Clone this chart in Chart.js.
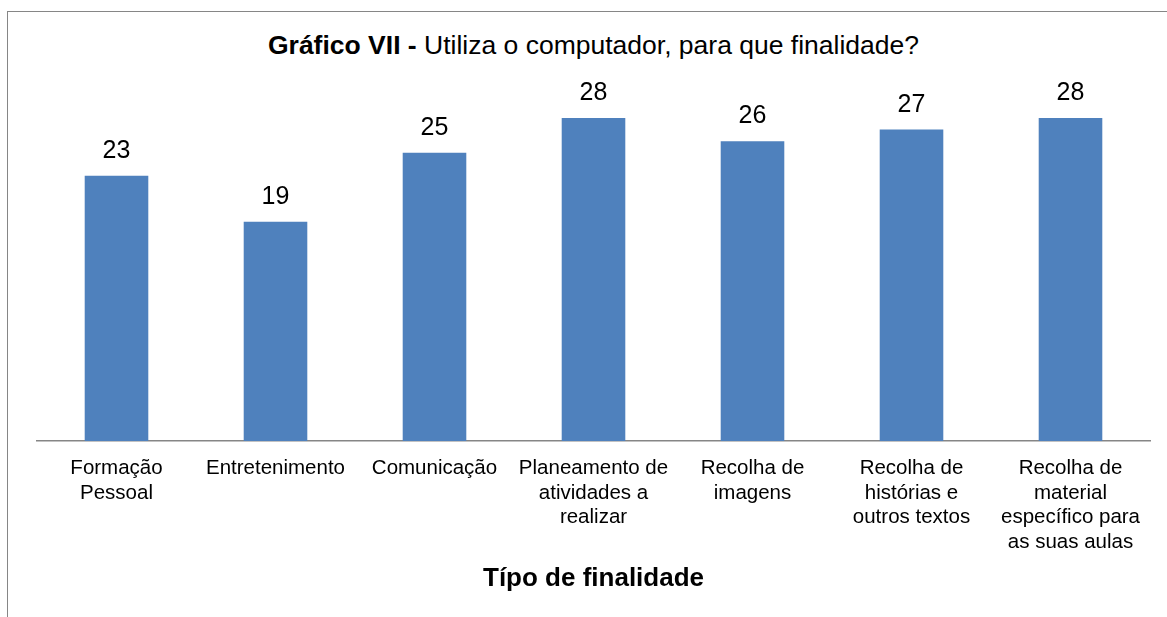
<!DOCTYPE html>
<html>
<head>
<meta charset="utf-8">
<script src="https://cdn.jsdelivr.net/npm/chart.js@4"></script>
<style>
    html, body { margin: 0; padding: 0; background: #fff; }
    #wrap { position: relative; width: 1167px; height: 617px; overflow: hidden; }
    #frame {
        position: absolute; left: 7px; top: 11px; width: 1200px; height: 700px;
        border-top: 1px solid #868686; border-left: 1px solid #868686;
    }
    #titulo {
        position: absolute; left: 37px; width: 1113px; top: 29px;
        text-align: center; font-family: "Liberation Sans", Arial, sans-serif;
        font-size: 26.5px; line-height: 32px; color: #000;
    }
    canvas { position: absolute; left: 0; top: 0; }
</style>
</head>
<body>
<div id="wrap">
    <div id="frame"></div>
    <div id="titulo"><b>Gráfico VII -</b> Utiliza o computador, para que finalidade?</div>
    <canvas id="grafico" width="1167" height="617"></canvas>
</div>
<script>
// Categorias (eixo X)
const categorias = [
    ["Formação", "Pessoal"],
    "Entretenimento",
    "Comunicação",
    ["Planeamento de", "atividades a", "realizar"],
    ["Recolha de", "imagens"],
    ["Recolha de", "histórias e", "outros textos"],
    ["Recolha de", "material", "específico para", "as suas aulas"],
];

// Número de respostas
const valores = [23, 19, 25, 28, 26, 27, 28];

const fonte = "'Liberation Sans', Arial, sans-serif";

// Plugin simples para escrever o valor por cima de cada barra
const rotulosValores = {
    id: "rotulosValores",
    afterDatasetsDraw(chart) {
        const ctx = chart.ctx;
        const meta = chart.getDatasetMeta(0);
        ctx.save();
        ctx.font = "25px " + fonte;
        ctx.fillStyle = "#000";
        ctx.textAlign = "center";
        ctx.textBaseline = "alphabetic";
        meta.data.forEach((barra, i) => {
            ctx.fillText(String(valores[i]), barra.x, barra.y - 18);
        });
        ctx.restore();
    },
};

const grafico = new Chart(document.getElementById("grafico"), {
    type: "bar",
    data: {
        labels: categorias,
        datasets: [
            {
                label: "Finalidade",
                data: valores,
                backgroundColor: "#4F81BD",
                categoryPercentage: 1,
                barPercentage: 0.4,
            },
        ],
    },
    options: {
        responsive: false,
        animation: false,
        layout: {
            padding: { left: 37, right: 17, top: 95, bottom: 0 },
        },
        plugins: {
            legend: { display: false },
            tooltip: { enabled: false },
        },
        scales: {
            x: {
                grid: { display: false, drawTicks: false },
                border: { display: true, color: "#868686", width: 1.5 },
                ticks: {
                    color: "#000",
                    font: { family: fonte, size: 20.5 },
                    padding: 15,
                    maxRotation: 0,
                    autoSkip: false,
                },
                title: {
                    display: true,
                    text: "Típo de finalidade",
                    color: "#000",
                    font: { family: fonte, size: 26, weight: "bold" },
                    padding: { top: 0, bottom: 23 },
                },
                afterFit(scale) {
                    scale.height = 176;
                },
            },
            y: {
                display: false,
                min: 0,
                max: 30,
            },
        },
    },
    plugins: [rotulosValores],
});
</script>
</body>
</html>
